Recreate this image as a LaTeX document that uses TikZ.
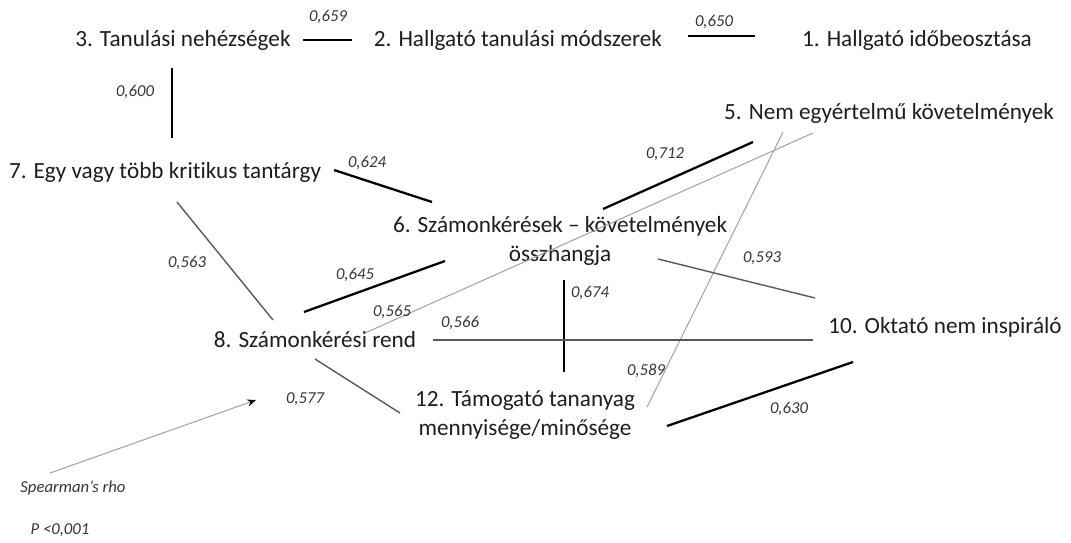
\documentclass[tikz,border=0pt]{standalone}
\usepackage{fontspec}
\setmainfont{Carlito}[Ligatures=NoCommon]
\usepackage{tikz}
\usetikzlibrary{arrows.meta}
\definecolor{txtgray}{RGB}{30,30,30}
\definecolor{numgray}{RGB}{55,55,55}
\definecolor{midgray}{RGB}{90,90,90}
\definecolor{lightgray}{RGB}{165,165,165}

\begin{document}
\begin{tikzpicture}[
  x=0.02cm, y=-0.02cm,
  factor/.style={inner sep=0pt, align=center, text=txtgray, font=\fontsize{13.2}{16.5}\selectfont},
  coef/.style={inner sep=0pt, text=numgray, font=\fontsize{9.5}{11}\selectfont\itshape},
  strong/.style={draw=black, line width=1.3pt},
  medium/.style={draw=midgray, line width=0.8pt},
  faint/.style={draw=lightgray, line width=0.6pt}
]
\useasboundingbox[fill=white] (0,0) rectangle (1071,542);
% factors
\node[factor] (n3) at (183,40) {3. Tanulási nehézségek};
\node[factor] (n2) at (518,40) {2. Hallgató tanulási módszerek};
\node[factor] (n1) at (917,40) {1. Hallgató időbeosztása};
\node[factor] (n5) at (889,113) {5. Nem egyértelmű követelmények};
\node[factor] (n7) at (165,172) {7. Egy vagy több kritikus tantárgy};
\node[factor] (n6) at (560,241) {6. Számonkérések – követelmények\\összhangja};
\node[factor] (n8) at (315,340) {8. Számonkérési rend};
\node[factor] (n10) at (945,327) {10. Oktató nem inspiráló};
\node[factor] (n12) at (525,415) {12. Támogató tananyag\\mennyisége/minősége};
% correlations
\draw[strong] ([shift={(120,0)}]n3.center) -- ([shift={(-166,0)}]n2.center);
\draw[strong] ([shift={(170,-4)}]n2.center) -- ([shift={(-162,-4)}]n1.center);
\draw[strong] ([shift={(-11,28)}]n3.center) -- ([shift={(7,-34)}]n7.center);
\draw[strong] ([shift={(169,-2)}]n7.center) -- ([shift={(-128,-39)}]n6.center);
\draw[strong] ([shift={(43,-32)}]n6.center) -- ([shift={(-136,29)}]n5.center);
\draw[faint] ([shift={(50,-7)}]n8.center) -- ([shift={(-76,20)}]n5.center);
\draw[faint] ([shift={(122,-8)}]n12.center) -- ([shift={(-106,19)}]n5.center);
\draw[medium] ([shift={(12,30)}]n7.center) -- ([shift={(-42,-20)}]n8.center);
\draw[strong] ([shift={(-11,-28)}]n8.center) -- ([shift={(-115,20)}]n6.center);
\draw[medium] ([shift={(98,18)}]n6.center) -- ([shift={(-130,-29)}]n10.center);
\draw[strong] ([shift={(4,39)}]n6.center) -- ([shift={(39,-43)}]n12.center);
\draw[medium] ([shift={(118,0)}]n8.center) -- ([shift={(-132,13)}]n10.center);
\draw[medium] ([shift={(0,19)}]n8.center) -- ([shift={(-125,-2)}]n12.center);
\draw[strong] ([shift={(142,11)}]n12.center) -- ([shift={(-92,35)}]n10.center);
% coefficients
\node[coef] (r659) at (328,17) {0,659};
\node[coef] (r650) at (714,22) {0,650};
\node[coef] (r600) at (135,92) {0,600};
\node[coef] (r624) at (367,163) {0,624};
\node[coef] (r712) at (665,154) {0,712};
\node[coef] (r563) at (187,263) {0,563};
\node[coef] (r645) at (355,275) {0,645};
\node[coef] (r565) at (392,312) {0,565};
\node[coef] (r566) at (460,323) {0,566};
\node[coef] (r577) at (305,399) {0,577};
\node[coef] (r593) at (762,258) {0,593};
\node[coef] (r674) at (590,293) {0,674};
\node[coef] (r589) at (646,371) {0,589};
\node[coef] (r630) at (789,409) {0,630};
% legend
\node[coef] (rho) at (73,488) {Spearman’s rho};
\node[coef] (pval) at (60,530) {P <0,001};
\coordinate (rhotip) at (256,400);
\draw[faint, -{Stealth[black, length=5pt, width=4pt]}] ([shift={(-23,-15)}]rho.center) -- (rhotip);
\end{tikzpicture}
\end{document}
